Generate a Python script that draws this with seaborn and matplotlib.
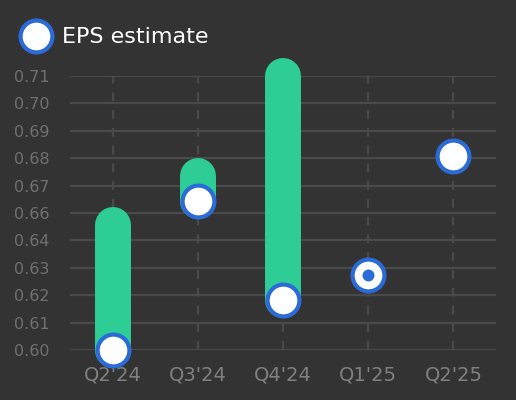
import numpy as np
import matplotlib.pyplot as plt
import seaborn as sns
from matplotlib.lines import Line2D

# data
quarters = ["Q2'24", "Q3'24", "Q4'24", "Q1'25", "Q2'25"]
eps_estimate = [0.60, 0.66, 0.62, 0.63, 0.678]
eps_actual = [0.65, 0.67, 0.71, 0.63, None]
y_ticks = np.linspace(0.60, 0.71, 11)
y_tick_labels = ["0.60", "0.61", "0.62", "0.63", "0.64", "0.66",
                 "0.67", "0.68", "0.69", "0.70", "0.71"]

BG = '#333333'
GREEN = '#2ecd96'
BLUE = '#2b6bd8'
GRID = '#4a4a4a'

sns.set_style('dark', {'axes.facecolor': BG, 'figure.facecolor': BG})
plt.rcParams['font.family'] = ['DejaVu Sans']

fig = plt.figure(figsize=(5.16, 4.0), dpi=100)
ax = fig.add_axes([70 / 516, 50 / 400, 426 / 516, 274 / 400])
ax.set_facecolor(BG)

x = np.arange(len(quarters))

# grid
for yt in y_ticks:
    ax.axhline(yt, color=GRID, lw=1.6, zorder=0)
for xi in x:
    ax.axvline(xi, color=GRID, lw=1.6, ls=(0, (4, 4)), zorder=0)

# bars from estimate to actual
for xi, est, act in zip(x, eps_estimate, eps_actual):
    if act is None:
        continue
    ax.plot([xi, xi], [est, act], color=GREEN, lw=25.9,
            solid_capstyle='round', clip_on=False, zorder=2)

# estimate circles
sns.scatterplot(x=x, y=eps_estimate, s=525, color='white', edgecolor=BLUE,
                linewidth=3.0, ax=ax, zorder=3, clip_on=False, legend=False)

# in-line marker
same_x = [xi for xi, est, act in zip(x, eps_estimate, eps_actual) if act is not None and act == est]
same_y = [est for est, act in zip(eps_estimate, eps_actual) if act is not None and act == est]
sns.scatterplot(x=same_x, y=same_y, s=74, color=BLUE, linewidth=0,
                ax=ax, zorder=4, clip_on=False, legend=False)

ax.set_xlim(-0.5, len(quarters) - 0.5)
ax.set_ylim(0.60, 0.71)
ax.set_xticks(x)
ax.set_xticklabels(quarters, color='#808080', fontsize=14)
ax.set_yticks(y_ticks)
ax.set_yticklabels(y_tick_labels, color='#707070', fontsize=11.5)
ax.tick_params(axis='both', length=0)
ax.tick_params(axis='y', pad=15)
ax.tick_params(axis='x', pad=11)
for sp in ax.spines.values():
    sp.set_visible(False)
ax.grid(False)

# legend
fig.add_artist(Line2D([36 / 516], [1 - 36 / 400], transform=fig.transFigure,
                      marker='o', markersize=22.9, markerfacecolor='white',
                      markeredgecolor=BLUE, markeredgewidth=3.0, ls=''))
fig.text(62 / 516, 1 - 37 / 400, 'EPS estimate', color='white',
         fontsize=16, va='center', ha='left')

fig.savefig('out.png', dpi=100, facecolor=BG)
